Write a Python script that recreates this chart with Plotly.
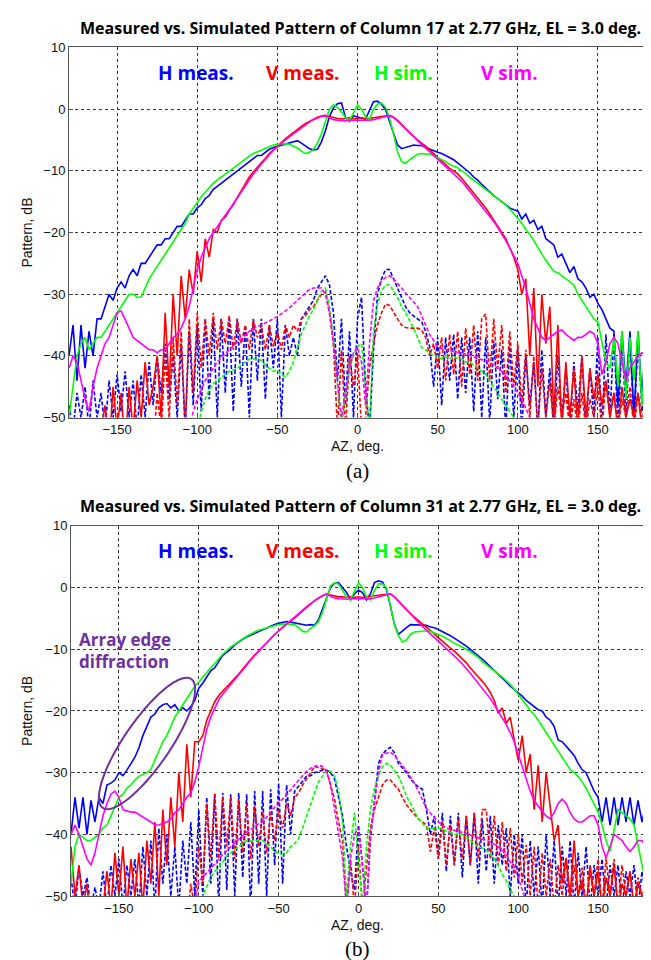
import numpy as np
import plotly.graph_objects as go

# Azimuth grid (deg), 2.5 deg sampling, -180..180 -> 145 samples
AZ = [-180 + 2.5 * i for i in range(145)]

# ---------------- Panel (a): Column 17 ----------------
A_H_MEAS = [
    -40, -35, -44, -35, -42, -36, -40, -34,
    -34, -32, -30, -31, -29, -28, -29, -27,
    -26, -27, -25, -25, -24, -23, -22, -22,
    -21, -21, -20, -19, -19, -18, -17, -17,
    -16, -15.5, -14.5, -14, -13, -12.5, -12, -11.5,
    -11, -10.5, -10, -9.5, -9, -8.5, -8, -7.5,
    -7.5, -7, -6.5, -6.2, -6, -5.8, -5.7, -5.5,
    -5.3, -5.1, -5.5, -6, -6.4, -6.6, -6.5, -5.3,
    -3.5, -1.2, 0.2, 0.9, 1.0, -1.3, -2, -1.1,
    -1.3, -1.5, -1.6, -0.2, 1.2, 1.3, 0.8, -0.1,
    -2, -4.2, -5.8, -6.4, -6.2, -6, -5.8, -5.9,
    -5.9, -6.2, -6.5, -6.8, -7, -7.2, -7.5, -7.8,
    -8.2, -8.7, -9.2, -9.8, -10.3, -11, -11.5, -12.2,
    -12.8, -13.5, -14, -14.5, -15, -15.5, -16, -16.3,
    -16.5, -17.8, -17, -18.5, -18, -19.5, -19, -21,
    -21.5, -22, -24, -23.5, -25, -26.5, -25.5, -27.5,
    -28, -29, -30.5, -30, -31.5, -32.5, -34, -35.5,
    -36, -48, -36, -45, -36, -50, -36, -47,
    -36]

A_V_MEAS = [
    -52, -55, -50, -55, -52, -55, -50, -55,
    -52, -48, -55, -45, -52, -46, -55, -45,
    -52, -44, -50, -41, -48, -45, -40, -50,
    -33, -45, -30, -40, -27, -34, -26, -30,
    -23, -28, -21, -24, -19.5, -20, -18, -17.5,
    -16.4, -15.5, -14.3, -13.2, -12, -11, -10.2, -9.4,
    -8.7, -8, -7.2, -6.6, -6, -5.3, -4.8, -4.3,
    -3.8, -3.3, -2.8, -2.3, -2, -1.6, -1.3, -1.1,
    -1, -1.2, -1.4, -1.5, -1.6, -1.5, -1.4, -1.6,
    -1.5, -1.4, -1.6, -1.5, -1.3, -1.2, -1.1, -1,
    -1, -1.3, -1.8, -2.5, -3.2, -3.8, -4.4, -5,
    -5.5, -6, -6.6, -7.2, -7.8, -8.4, -9, -9.6,
    -10, -10.5, -11.2, -12, -12.8, -13.7, -14.5, -15.3,
    -16, -17, -18, -19, -20, -21, -22.5, -24,
    -26, -30, -27.5, -40, -29, -45, -30, -38,
    -32, -50, -35, -52, -41, -50, -42, -52,
    -40, -50, -42, -47, -43, -48, -44, -50,
    -46, -52, -45, -50, -47, -50, -46, -52,
    -50]

A_H_SIM = [
    -50, -45, -40, -38, -37, -39, -38, -37,
    -37, -36, -35, -34, -33, -32, -31, -30,
    -30, -30.5, -30.5, -29, -27.5, -26.5, -25.5, -24.5,
    -23.5, -22.5, -21.5, -20.5, -19.5, -18.5, -17, -16,
    -15, -14.2, -13.5, -12.8, -12, -11.5, -11, -10.5,
    -10, -9.5, -9, -8.5, -8, -7.6, -7.2, -6.9,
    -6.6, -6.3, -6, -5.8, -5.7, -5.6, -5.6, -5.7,
    -6, -6.3, -6.8, -7.2, -7, -6.5, -5.5, -4,
    -2, 0, 0.7, 0.3, -0.5, -1.3, -1.9, -0.5,
    0.7, 0, -1.2, -1.6, 0, 0.8, 1, 0.3,
    -1.5, -4, -7, -8.5, -8.8, -8.2, -7.7, -7.3,
    -7.2, -7.2, -7.3, -7.5, -7.8, -8.2, -8.5, -9,
    -9.3, -9.5, -10, -10.4, -11, -11.5, -12, -12.6,
    -13, -13.5, -14, -14.5, -15, -15.5, -16.2, -17,
    -17.8, -18.5, -19.5, -20.3, -21.3, -22.5, -23.5, -24.5,
    -25.5, -26.3, -26.5, -27, -27.5, -28, -28.5, -30,
    -31, -32, -33, -34, -34.5, -38, -41, -42,
    -37, -45, -36, -47, -37, -44, -36, -48,
    -38]

A_V_SIM = [
    -42, -40, -41, -44, -47, -49, -45, -42,
    -40, -38, -37, -35, -33, -32.7, -34, -35.5,
    -37, -37.5, -38, -38.5, -39, -39, -39.5, -39,
    -39, -38, -37, -36.5, -35.5, -34, -32, -29,
    -26, -24, -22.5, -21, -20, -19, -18, -17.2,
    -16.3, -15.3, -14.3, -13.3, -12.3, -11.4, -10.5, -9.7,
    -8.9, -8.1, -7.4, -6.7, -6.1, -5.5, -5, -4.5,
    -4, -3.5, -3, -2.5, -2.1, -1.7, -1.4, -1.2,
    -1.1, -1.4, -1.7, -1.8, -1.9, -1.9, -1.8, -1.8,
    -1.8, -1.8, -1.9, -1.8, -1.7, -1.5, -1.3, -1.2,
    -1.1, -1.4, -1.9, -2.5, -3.1, -3.7, -4.4, -5.1,
    -5.7, -6.3, -6.9, -7.5, -8.1, -8.7, -9.3, -9.9,
    -10.4, -11, -11.7, -12.5, -13.3, -14.1, -14.9, -15.7,
    -16.5, -17.3, -18.2, -19.2, -20.2, -21.3, -22.5, -23.8,
    -25, -27, -29, -31.5, -34, -35.5, -37, -37.5,
    -37, -36.5, -36, -35.8, -36.5, -37, -37.5, -37,
    -37, -36.5, -36, -36.4, -38, -43, -41, -38,
    -37, -38, -41, -44, -42, -41, -40, -39.5,
    -40]

A_H_MEAS_DASH = [
    -48, -52, -46, -50, -45, -52, -44, -50,
    -46, -52, -44, -50, -43, -49, -42.5, -50,
    -44, -52, -43, -50, -41, -48, -40, -46,
    -38, -47, -40, -50, -38, -52, -36, -48,
    -35, -49, -34, -47, -34, -50, -34, -46,
    -34, -49, -34, -45, -35, -50, -34, -44,
    -34, -47, -35, -42, -34, -50, -35, -40,
    -37, -40, -34, -33, -32, -31, -29, -28,
    -27, -28.5, -33, -44, -34, -48, -36, -50,
    -34, -30.5, -45, -52, -39, -30, -27.5, -26,
    -26, -27.5, -29, -30.5, -32, -33, -33.5, -34,
    -34.5, -36, -38.5, -45, -37, -48, -37, -44,
    -36.5, -47, -37, -46, -37, -49, -36, -50,
    -37, -51, -37.5, -47, -39, -52, -38, -50,
    -39, -52, -40, -48, -41, -52, -39, -50,
    -42, -52, -40, -50, -42, -52, -41, -49,
    -40, -52, -42, -50, -37, -52, -36.5, -50,
    -36.5, -52, -37, -50, -36.5, -52, -37, -49,
    -40]

A_V_MEAS_DASH = [
    -55, -55, -55, -55, -55, -55, -55, -55,
    -55, -55, -55, -55, -55, -55, -55, -55,
    -55, -55, -55, -52, -50, -55, -46, -52,
    -40, -50, -37, -48, -36, -52, -34, -46,
    -33, -42, -34, -40, -33, -39, -34, -38,
    -33.5, -39, -34, -38, -35, -39, -34, -37,
    -35, -39, -35, -38.5, -36, -39, -35, -37,
    -35, -36, -34, -33.5, -32.5, -32, -31, -30,
    -29.6, -33, -38, -52, -39, -52, -40, -45,
    -39.5, -52, -50, -41.8, -38, -35, -33, -31.6,
    -31.8, -33, -34, -35, -35.4, -35.5, -35.5, -35.5,
    -35.8, -37, -40, -38, -42, -37, -44, -36.5,
    -43, -36, -45, -35.5, -43, -35, -44, -34,
    -33.2, -44, -34, -42, -35, -46, -36, -45,
    -38, -48, -39, -50, -40, -52, -42, -50,
    -44, -52, -45, -50, -46, -52, -47, -52,
    -46, -52, -47, -50, -45, -52, -44, -50,
    -46, -52, -47, -50, -45, -52, -46, -50,
    -48]

A_H_SIM_DASH = [
    -55, -55, -55, -55, -55, -55, -55, -55,
    -55, -55, -55, -55, -55, -55, -55, -55,
    -55, -55, -55, -55, -55, -55, -55, -55,
    -55, -55, -55, -55, -55, -55, -55, -55,
    -52, -49, -47, -45.5, -44.5, -44, -43.5, -43,
    -42.5, -42.3, -42, -41.5, -41, -40.5, -40.5, -40.5,
    -40.7, -41.5, -42, -42.5, -42.3, -43, -43.4, -42.5,
    -41, -38.5, -36.4, -35, -33.5, -32.5, -31, -29.5,
    -29, -32, -37, -44, -52, -46, -42, -40,
    -38.5, -38, -45, -52, -36, -31.6, -29.5, -28.5,
    -28.5, -29.5, -30.5, -32, -33, -34.3, -35.5, -37,
    -38.6, -39, -39.5, -40, -40, -40.5, -40, -40.5,
    -40, -40.5, -40.5, -41, -41, -41.5, -42, -42.5,
    -43, -44, -45, -46, -47, -48, -49, -50,
    -52, -55, -55, -55, -55, -55, -55, -55,
    -55, -55, -55, -55, -55, -55, -55, -55,
    -55, -55, -55, -55, -55, -55, -55, -55,
    -55, -55, -55, -55, -55, -55, -55, -55,
    -55]

A_V_SIM_DASH = [
    -55, -55, -55, -55, -55, -55, -55, -55,
    -55, -55, -55, -55, -55, -55, -55, -55,
    -55, -55, -55, -55, -55, -55, -55, -55,
    -55, -55, -55, -55, -55, -55, -52, -49,
    -47, -45.5, -44, -43, -42, -41, -40.3, -39.6,
    -39, -38.4, -37.8, -37.2, -36.6, -36, -35.6, -35.2,
    -35, -34.7, -34.3, -34, -33.6, -33.2, -32.7, -32.2,
    -31.6, -31, -30.3, -29.7, -29.2, -29, -29, -29,
    -30, -33, -38, -44, -50, -46, -42, -39.5,
    -38.6, -41, -48, -38, -31, -29, -27.8, -27.3,
    -27, -27.5, -28.2, -29, -29.8, -30.5, -31.3, -32,
    -33.5, -35, -36.5, -37.5, -38.6, -38.8, -39, -39.2,
    -39.3, -39.4, -39.5, -39.7, -39.9, -40.2, -40.4, -40.6,
    -40.7, -41, -41.5, -42, -42.5, -43.2, -44, -45,
    -46, -47, -48.5, -50, -52, -55, -55, -55,
    -55, -55, -55, -55, -55, -55, -55, -55,
    -55, -55, -55, -55, -55, -55, -55, -55,
    -55, -55, -55, -55, -55, -55, -55, -55,
    -55]

# ---------------- Panel (b): Column 31 ----------------
B_H_MEAS = [
    -40, -34, -39, -34, -40, -34.5, -38, -34,
    -35, -32, -31.7, -31.2, -30, -30.5, -29.6, -28.5,
    -27.5, -26, -24, -22.5, -21, -20.5, -19.5, -19,
    -18.8, -19.5, -19, -20, -19.5, -20, -19.3, -18.3,
    -16.3, -15.5, -14.5, -13.5, -13, -12, -11, -10.5,
    -10, -9.3, -8.8, -8.4, -8, -7.7, -7.4, -7.1,
    -6.9, -6.6, -6.3, -6, -5.8, -5.6, -5.5, -5.6,
    -5.7, -5.9, -6, -6.1, -6, -6.1, -5.2, -3.5,
    -1.5, 0, 0.7, 0.8, 0, -0.8, -2, -1,
    -0.4, -0.8, -2, -1, 0.8, 1.1, 0.9, -0.3,
    -3, -6, -7.6, -7, -6.5, -6, -6, -6,
    -6, -6.1, -6.4, -6.5, -6.8, -7.1, -7.5, -7.8,
    -8.2, -8.6, -9.1, -9.5, -10, -10.5, -11, -11.6,
    -12.2, -12.8, -13.4, -14, -14.7, -15.3, -16, -16.5,
    -17, -17.6, -18.3, -18.8, -19.2, -19.8, -20, -21,
    -21.5, -22.5, -24.7, -25, -25.7, -26.5, -27.2, -28.5,
    -29.5, -30, -31.5, -33, -34, -38, -34, -38.5,
    -34, -38.5, -34, -38, -34, -38.5, -34.5, -38,
    -35]

B_V_MEAS = [
    -42, -50, -45, -52, -48, -55, -50, -55,
    -52, -46, -52, -43, -50, -42, -52, -44,
    -50, -43, -52, -41, -48, -38, -50, -36,
    -45, -34, -42, -30, -38, -25.4, -34, -25,
    -25, -24, -21.5, -20, -18.5, -17.5, -16.8, -16.2,
    -15.5, -14.7, -14, -13.2, -12.4, -11.6, -10.9, -10.3,
    -9.6, -8.9, -8.3, -7.6, -7, -6.5, -6, -5.5,
    -5, -4.4, -3.8, -3.2, -2.6, -2.1, -1.7, -1.3,
    -1, -1.2, -1.4, -1.5, -1.5, -1.6, -1.5, -1.6,
    -1.5, -1.6, -1.5, -1.4, -1.3, -1.2, -1.1, -1,
    -1, -1.5, -2.2, -2.9, -3.6, -4.2, -4.8, -5.4,
    -5.9, -6.4, -6.9, -7.5, -8.1, -8.7, -9.2, -9.8,
    -10.3, -10.9, -11.5, -12.2, -13, -13.8, -14.5, -15.2,
    -16, -17, -18.3, -20.4, -19.5, -22, -21, -24.7,
    -28, -24, -30, -27, -36, -28.8, -38, -30,
    -36, -41, -38.5, -48, -43.8, -50, -41, -50,
    -47.5, -52, -45, -50, -46, -52, -47, -50,
    -45, -52, -48, -50, -46, -52, -48, -50,
    -50]

B_H_SIM = [
    -48, -42, -40, -40.5, -41, -41, -40.5, -40,
    -39, -38.5, -37, -35.5, -34, -33.5, -32.5, -32,
    -31.2, -30.6, -30.3, -30, -29.5, -28, -26.5, -25,
    -24, -22.5, -21, -20, -19, -18, -17, -16,
    -15.3, -14.5, -13.8, -13, -12.3, -11.5, -10.8, -10.2,
    -9.6, -9.2, -8.7, -8.3, -7.9, -7.5, -7.2, -6.9,
    -6.7, -6.5, -6.3, -6.1, -6, -5.9, -5.9, -6,
    -6, -6.5, -7.1, -7.2, -6.6, -6.2, -5.5, -4,
    -2, 0.3, 0.8, 0.6, -0.5, -1.5, -2, -0.5,
    0.8, 0, -1.5, -2, -0.5, 0.6, 0.6, 0,
    -3, -6, -7.8, -8.8, -8.5, -7.6, -7.2, -7.1,
    -7.1, -7, -7.1, -7.3, -7.6, -7.9, -8.2, -8.6,
    -9, -9.3, -9.7, -10, -10.4, -10.8, -11.3, -12,
    -12.5, -12.9, -13.4, -13.9, -14.5, -15.1, -15.7, -16.5,
    -17.3, -18.2, -19, -19.9, -20.6, -21.5, -22.5, -23.5,
    -24.7, -25.6, -26.6, -27.7, -28.5, -29.5, -30, -30.6,
    -31.5, -32.5, -33.8, -35, -36.4, -38.5, -41, -42.7,
    -39, -36, -36.5, -37, -37.5, -38.5, -42, -45,
    -48]

B_V_SIM = [
    -40, -38.5, -40, -42, -44, -45, -43, -40,
    -37, -35, -33.5, -33, -34, -36, -36.2, -36.4,
    -36.4, -36.8, -37.2, -37.5, -38, -38.5, -38.5, -38.2,
    -38, -37.5, -36.5, -36, -35, -34, -33.3, -31.5,
    -29, -26, -23, -21, -19.5, -18.2, -17.3, -16.5,
    -15.7, -14.9, -14.1, -13.3, -12.5, -11.7, -11, -10.3,
    -9.6, -8.9, -8.2, -7.6, -7, -6.4, -5.9, -5.3,
    -4.8, -4.2, -3.6, -3.1, -2.6, -2.1, -1.7, -1.3,
    -1.1, -1.4, -1.7, -1.8, -1.9, -1.9, -1.8, -1.8,
    -1.8, -1.8, -1.9, -1.8, -1.7, -1.5, -1.3, -1.1,
    -1, -1.5, -2.2, -2.9, -3.6, -4.3, -5, -5.7,
    -6.3, -6.9, -7.5, -8.1, -8.7, -9.3, -9.9, -10.5,
    -11, -11.7, -12.4, -13.1, -13.9, -14.7, -15.5, -16.3,
    -17.1, -18, -19, -20, -21, -22.2, -23.5, -25,
    -27, -29, -31, -33, -34.5, -35.5, -36.3, -37,
    -37.5, -36.5, -35, -34.3, -35, -36.5, -37.5, -38,
    -38, -37.5, -37, -37, -38.5, -42, -43.8, -42,
    -40, -40.5, -41, -42, -42.8, -42, -41, -41,
    -42]

B_H_MEAS_DASH = [
    -47, -52, -45.4, -50, -47, -52, -48.6, -52,
    -46, -52, -45, -50, -44, -52, -45, -50,
    -44, -52, -42, -50, -41, -52, -39, -48,
    -40, -50, -42, -52, -41, -48, -38, -50,
    -36, -50, -34, -48, -33.5, -52, -33.3, -49,
    -33.5, -50, -33.3, -47, -33.5, -52, -33, -48,
    -33, -50, -32.7, -45, -31.7, -48, -32, -40,
    -33, -32.2, -31.5, -30.6, -30.5, -30, -29.8, -29.6,
    -29.6, -30, -31, -34, -37, -42, -46, -49,
    -38.5, -45, -52, -40.7, -34, -28.5, -27, -26.3,
    -25.9, -26.8, -28.5, -29.3, -30, -31, -31.8, -32.3,
    -32.7, -36, -40, -37, -44, -36.5, -46, -37,
    -45, -36.5, -47, -37, -45, -36.5, -48, -37.5,
    -46, -37, -48, -38.5, -45, -39, -50, -40,
    -48, -40, -52, -41, -50, -42, -52, -40,
    -50, -41, -52, -42, -50, -41, -52, -43,
    -50, -42, -52, -45, -50, -44, -52, -45,
    -50, -45, -52, -46, -50, -45, -52, -46,
    -50]

B_V_MEAS_DASH = [
    -55, -55, -55, -55, -55, -55, -55, -55,
    -55, -55, -55, -55, -55, -55, -55, -55,
    -55, -55, -55, -55, -55, -55, -55, -55,
    -55, -55, -55, -55, -52, -55, -48, -52,
    -42, -48, -35, -44, -33.3, -44, -34, -42,
    -33.8, -44, -34.5, -43, -35, -44, -35.5, -42,
    -36.4, -43, -36.5, -41, -36, -39, -35, -37,
    -34, -33.3, -32, -31, -30, -29, -29.2, -29.4,
    -29.6, -32, -34.3, -38, -41, -52, -44, -52,
    -42, -52, -45, -39, -36, -33.8, -32, -31.2,
    -31.2, -32, -32.7, -34, -35.2, -36, -36.8, -37.5,
    -38, -38.5, -42.8, -39, -44, -38, -45, -38.5,
    -45, -37.5, -44, -37, -45, -36.5, -44, -36,
    -36, -44, -37, -45, -38, -46, -39, -47,
    -40, -48, -41.7, -50, -42, -52, -43, -50,
    -44, -52, -45, -50, -44, -52, -45, -50,
    -45.4, -52, -46, -50, -44, -52, -43.8, -50,
    -44, -52, -45, -50, -46, -52, -47, -50,
    -48]

B_H_SIM_DASH = [
    -55, -55, -55, -55, -55, -55, -55, -55,
    -55, -55, -55, -55, -55, -55, -55, -55,
    -55, -55, -55, -55, -55, -55, -55, -55,
    -55, -55, -55, -55, -55, -55, -55, -55,
    -55, -50, -48.5, -47, -46, -45.4, -44.5, -43.5,
    -43, -42.5, -42, -41.5, -41, -41, -41, -41,
    -41, -41.5, -42, -42.8, -43, -43.3, -43, -42,
    -41.5, -40.7, -39, -37, -35, -33.3, -31.5, -30.5,
    -29.6, -29.8, -30.6, -33, -38, -50, -42, -36.5,
    -45, -52, -42, -36, -32.5, -30.5, -29, -28.5,
    -28.8, -29.8, -30.6, -32, -33.8, -35, -36.3, -37.5,
    -38.2, -39, -39, -39, -39, -39.2, -39.5, -39.8,
    -40, -40, -40, -40.5, -41, -41.5, -42, -42.2,
    -42.5, -43.2, -44, -45, -46.5, -47.5, -49, -50,
    -52, -55, -55, -55, -55, -55, -55, -55,
    -55, -55, -55, -55, -55, -55, -55, -55,
    -55, -55, -55, -55, -55, -55, -55, -55,
    -55, -55, -55, -55, -55, -55, -55, -55,
    -55]

B_V_SIM_DASH = [
    -55, -55, -55, -55, -55, -55, -55, -55,
    -55, -55, -55, -55, -55, -55, -55, -55,
    -55, -55, -55, -55, -55, -55, -55, -55,
    -55, -55, -55, -55, -55, -55, -55, -52,
    -47.5, -47, -46.2, -45.5, -44.8, -44, -43.3, -42.7,
    -42, -41.4, -40.8, -40.2, -39.6, -39.2, -38.7, -38.3,
    -38, -37.2, -36.4, -35.6, -35, -34.3, -33.6, -32.8,
    -32, -31.2, -30.5, -29.8, -29.3, -29, -28.8, -29,
    -29.8, -32, -36, -40, -43.8, -52, -44, -40,
    -39, -45, -52, -40, -34.8, -30, -27, -26.8,
    -26.7, -27.2, -28, -28.8, -29.7, -30.7, -31.7, -33,
    -34.5, -35.8, -36.6, -37.3, -38, -38.5, -39, -39.2,
    -39.3, -39.5, -39.7, -39.9, -40.1, -40.3, -40.5, -40.7,
    -40.9, -41.2, -41.6, -42, -42.5, -43.2, -44.5, -45.4,
    -47, -49, -51, -55, -55, -55, -55, -55,
    -55, -55, -55, -55, -55, -55, -55, -55,
    -55, -55, -55, -55, -55, -55, -55, -55,
    -55, -55, -55, -55, -55, -55, -55, -55,
    -55]

XTICKS = [-150, -100, -50, 0, 50, 100, 150]
YTICKS = [-50, -40, -30, -20, -10, 0, 10]
LEGEND_LABELS = ["H meas.", "V meas.", "H sim.", "V sim."]
COLORS = ["#0000FF", "#FF0000", "#00FF00", "#FF00FF"]
TITLES = ["Measured vs. Simulated Pattern of Column 17 at 2.77 GHz, EL = 3.0 deg.",
          "Measured vs. Simulated Pattern of Column 31 at 2.77 GHz, EL = 3.0 deg."]
CAPTIONS = ["(a)", "(b)"]

panels = [
    [A_H_MEAS, A_V_MEAS, A_H_SIM, A_V_SIM],
    [B_H_MEAS, B_V_MEAS, B_H_SIM, B_V_SIM],
]
panels_dash = [
    [A_H_MEAS_DASH, A_V_MEAS_DASH, A_H_SIM_DASH, A_V_SIM_DASH],
    [B_H_MEAS_DASH, B_V_MEAS_DASH, B_H_SIM_DASH, B_V_SIM_DASH],
]
for grp in panels + panels_dash:
    for s in grp:
        assert len(s) == len(AZ), len(s)

W, H = 651, 960
fig = go.Figure()

for p in range(2):
    xa = "x" if p == 0 else "x2"
    ya = "y" if p == 0 else "y2"
    for s, c in zip(panels_dash[p], COLORS):
        fig.add_trace(go.Scatter(x=AZ, y=s, mode="lines", xaxis=xa, yaxis=ya,
                                 line=dict(color=c, width=1.6, dash="4px,2px"),
                                 showlegend=False, hoverinfo="skip"))
    for s, c in zip(panels[p], COLORS):
        fig.add_trace(go.Scatter(x=AZ, y=s, mode="lines", xaxis=xa, yaxis=ya,
                                 line=dict(color=c, width=1.6),
                                 showlegend=False, hoverinfo="skip"))

# pixel geometry of the two plot boxes (left, right, top, bottom)
boxes = [(61, 638, 33, 409), (63, 638, 519, 895)]

axis_common = dict(showline=True, mirror=True, linecolor="#555555", linewidth=1,
                   ticks="inside", ticklen=4, tickcolor="#555555",
                   showgrid=True, gridcolor="#333333", griddash="dot", gridwidth=1,
                   zeroline=False,
                   tickfont=dict(family="Liberation Sans, Arial", size=13, color="#111111"))

layout = dict(width=W, height=H, margin=dict(l=0, r=0, t=0, b=0),
              paper_bgcolor="white", plot_bgcolor="white", showlegend=False)

annotations = []
for p, (l, r, t, b) in enumerate(boxes):
    xk = "xaxis" if p == 0 else "xaxis2"
    yk = "yaxis" if p == 0 else "yaxis2"
    layout[xk] = dict(domain=[l / W, r / W], range=[-180, 180], tickvals=XTICKS,
                      anchor="y" if p == 0 else "y2", **axis_common)
    layout[yk] = dict(domain=[1 - b / H, 1 - t / H], range=[-50, 10], tickvals=YTICKS,
                      anchor="x" if p == 0 else "x2", **axis_common)
    # title
    annotations.append(dict(xref="paper", yref="paper", x=352 / W, y=1 - (t - 20) / H,
                            text="<b>" + TITLES[p] + "</b>", showarrow=False,
                            xanchor="center", yanchor="middle",
                            font=dict(family="Open Sans", size=16, color="black")))
    # legend labels inside plot
    for lab, c, lx in zip(LEGEND_LABELS, COLORS, [188, 295, 395, 501]):
        annotations.append(dict(xref="paper", yref="paper", x=lx / W, y=1 - (t + 26) / H,
                                text="<b>" + lab + "</b>", showarrow=False,
                                xanchor="center", yanchor="middle",
                                font=dict(family="Open Sans", size=19, color=c)))
    # axis titles
    annotations.append(dict(xref="paper", yref="paper", x=349 / W, y=1 - (b + 29) / H,
                            text="AZ, deg.", showarrow=False, xanchor="center", yanchor="middle",
                            font=dict(family="Liberation Sans, Arial", size=14, color="#111111")))
    annotations.append(dict(xref="paper", yref="paper", x=19 / W, y=1 - ((t + b) / 2) / H,
                            text="Pattern, dB", showarrow=False, textangle=-90,
                            xanchor="center", yanchor="middle",
                            font=dict(family="Liberation Sans, Arial", size=14, color="#111111")))
    annotations.append(dict(xref="paper", yref="paper", x=349 / W, y=1 - (b + 54) / H,
                            text=CAPTIONS[p], showarrow=False, xanchor="center", yanchor="middle",
                            font=dict(family="Liberation Serif, Times New Roman", size=21, color="black")))

# "Array edge diffraction" annotation (panel b)
PURPLE = "#7030A0"
annotations.append(dict(xref="paper", yref="paper", x=69 / W, y=1 - 646 / H,
                        text="<b>Array edge<br>diffraction</b>", showarrow=False,
                        xanchor="left", yanchor="middle", align="left",
                        font=dict(family="Open Sans", size=17, color=PURPLE)))

# ellipse around the diffraction region (pixel geometry -> paper coords)
ecx, ecy, ea, eb = 139.0, 740.0, 79.0, 23.0
ang = np.deg2rad(56.0)
ux, uy = np.cos(ang), -np.sin(ang)
vx, vy = np.sin(ang), np.cos(ang)
th = np.linspace(0, 2 * np.pi, 121)
ex = ecx + ea * np.cos(th) * ux + eb * np.sin(th) * vx
ey = ecy + ea * np.cos(th) * uy + eb * np.sin(th) * vy
path = "M " + " L ".join(f"{x / W:.5f},{1 - y / H:.5f}" for x, y in zip(ex, ey)) + " Z"
shapes = [dict(type="path", xref="paper", yref="paper", path=path,
               line=dict(color=PURPLE, width=2), fillcolor="rgba(0,0,0,0)")]

layout["annotations"] = annotations
layout["shapes"] = shapes
fig.update_layout(**layout)
fig.write_html("out.html")
